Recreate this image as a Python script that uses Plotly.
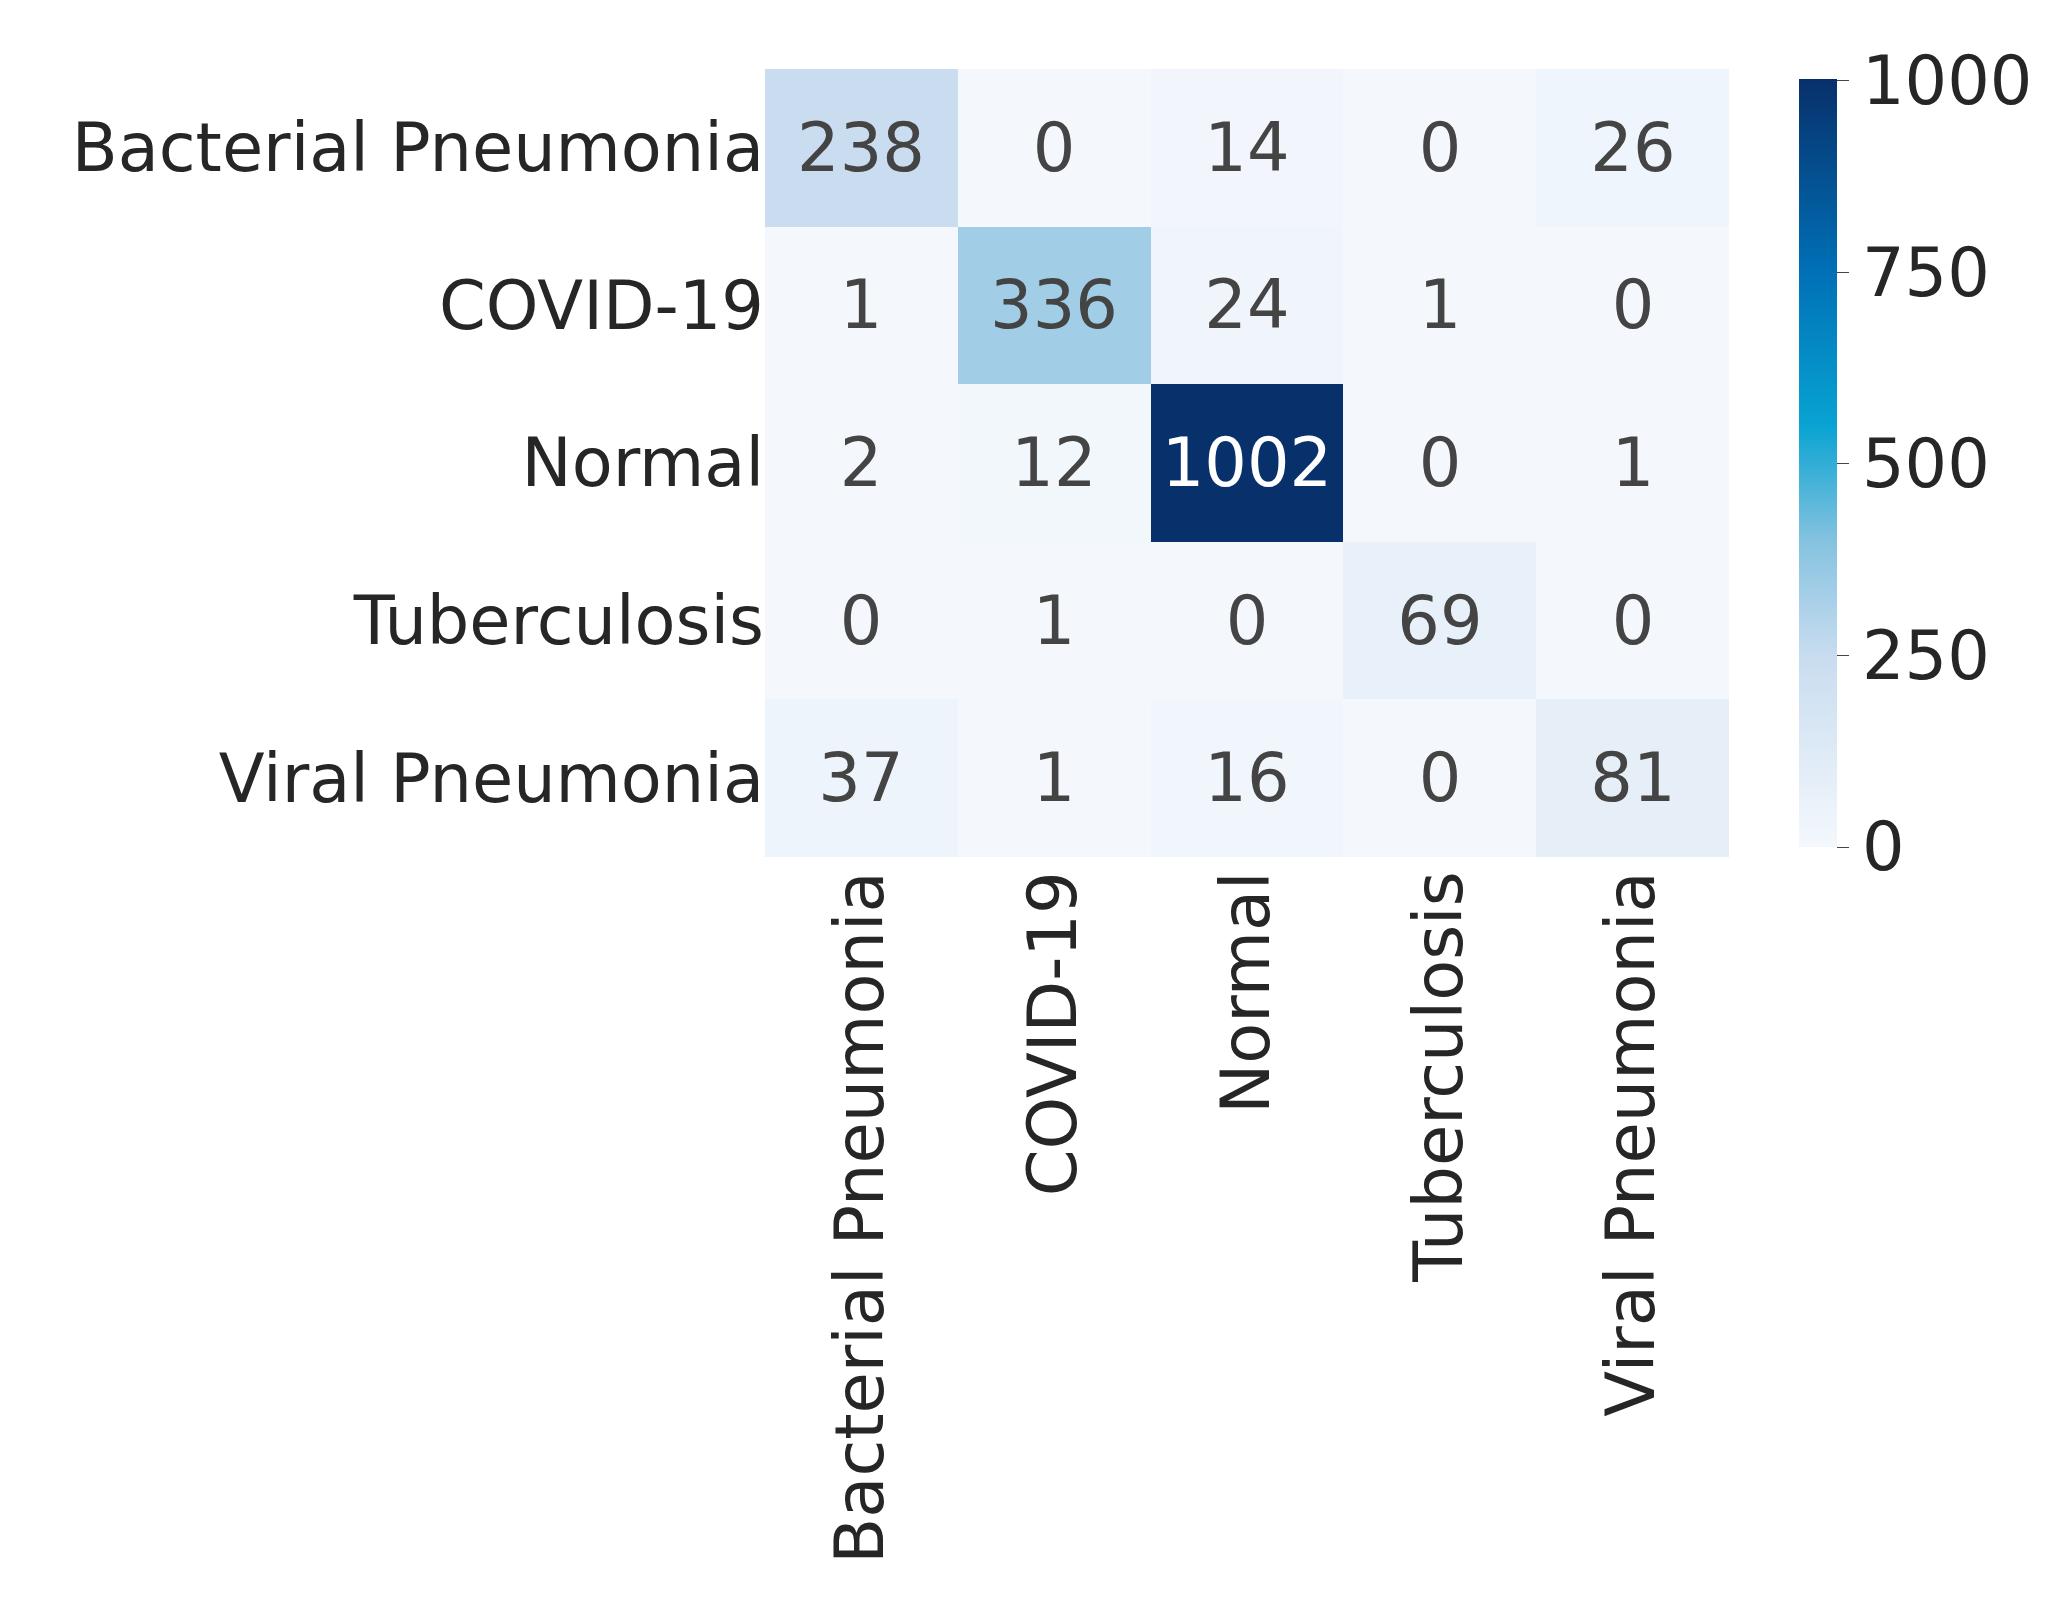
import plotly.graph_objects as go

labels = ["Bacterial Pneumonia", "COVID-19", "Normal", "Tuberculosis", "Viral Pneumonia"]
counts = [
    [238, 0, 14, 0, 26],
    [1, 336, 24, 1, 0],
    [2, 12, 1002, 0, 1],
    [0, 1, 0, 69, 0],
    [37, 1, 16, 0, 81],
]
cbar_ticks = [0, 250, 500, 750, 1000]

# blues with a cyan middle, as in the original colour bar
scale = [
    [0.0, "#f4f8fd"],
    [0.25, "#c8dcef"],
    [0.4, "#84c2e0"],
    [0.55, "#08a3d2"],
    [0.75, "#0070b6"],
    [1.0, "#08306b"],
]

font = dict(family="DejaVu Sans", size=67, color="#262626")

fig = go.Figure(go.Heatmap(
    z=counts, x=labels, y=labels,
    colorscale=scale, zmin=0, zmax=1002,
    text=counts, texttemplate="%{text}",
    textfont=dict(family="DejaVu Sans", size=67),
    colorbar=dict(
        x=1.062, xanchor="left", y=0.5, len=1, thickness=38,
        outlinewidth=0, tickvals=cbar_ticks, ticks="outside",
        ticklen=12, tickfont=font,
    ),
))
fig.update_xaxes(tickangle=-90, tickfont=font, showgrid=False, ticks="")
fig.update_yaxes(autorange="reversed", tickfont=font, showgrid=False, ticks="")
fig.update_layout(
    width=2047, height=1619,
    margin=dict(l=757, r=321, t=61, b=770),
    plot_bgcolor="white", paper_bgcolor="white",
)
fig.write_html("out.html")
